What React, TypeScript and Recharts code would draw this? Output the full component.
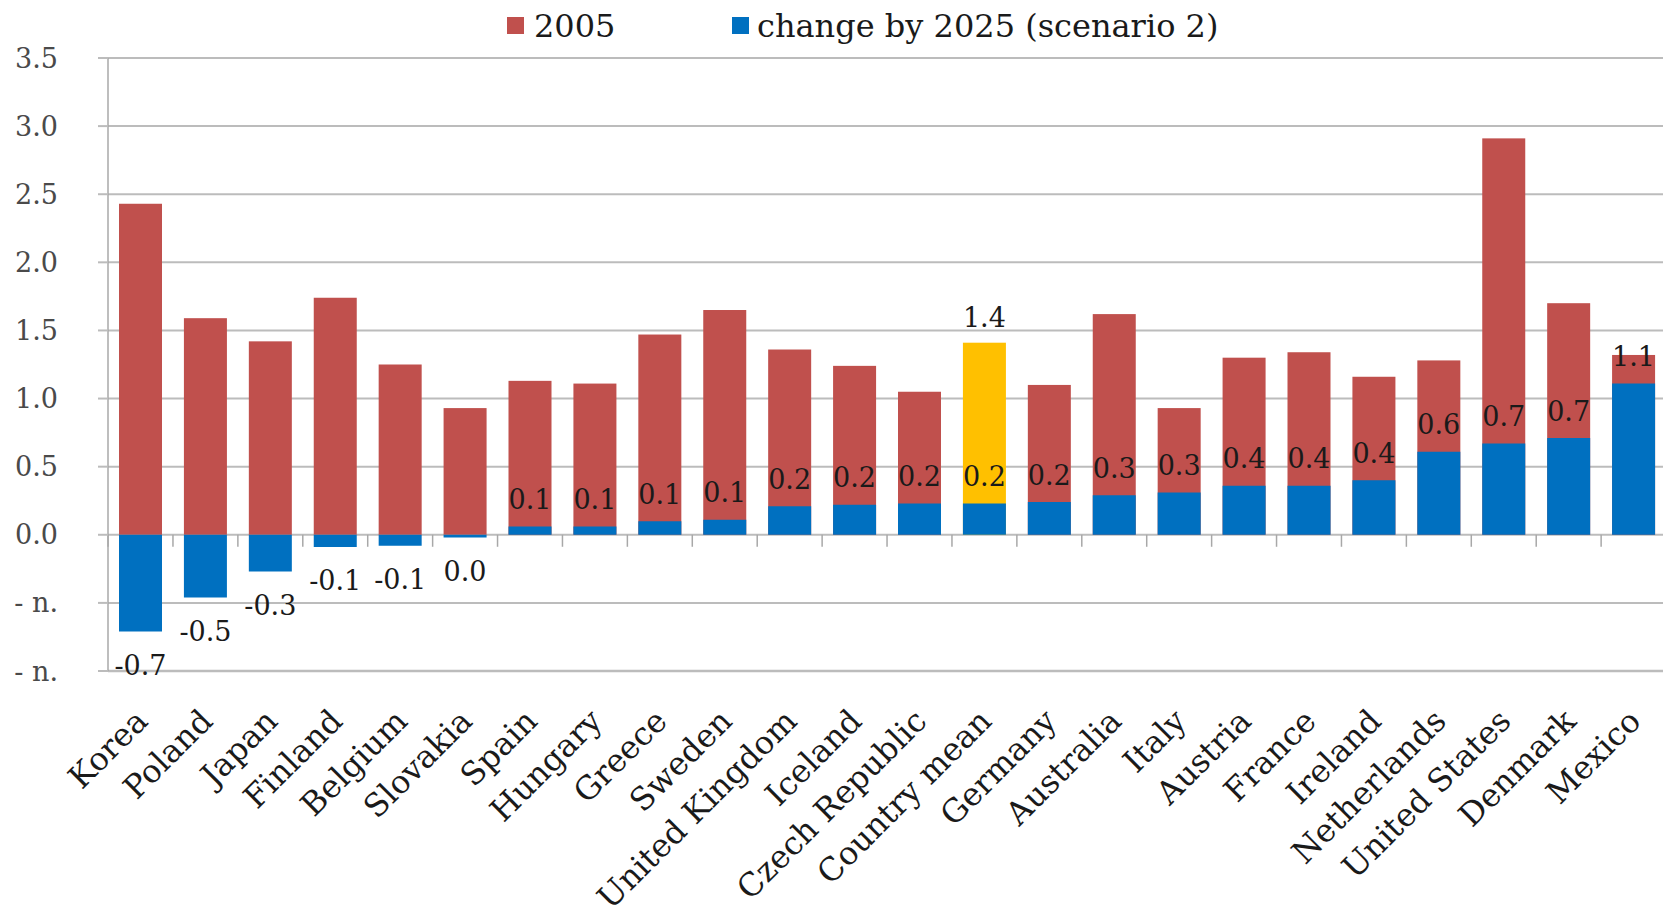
import React from "react";
import { BarChart, Bar, XAxis, YAxis, CartesianGrid, Cell, LabelList, Legend } from "recharts";

const countries = [
  "Korea", "Poland", "Japan", "Finland", "Belgium", "Slovakia", "Spain", "Hungary",
  "Greece", "Sweden", "United Kingdom", "Iceland", "Czech Republic", "Country mean",
  "Germany", "Australia", "Italy", "Austria", "France", "Ireland", "Netherlands",
  "United States", "Denmark", "Mexico",
];
const level2005 = [
  2.43, 1.59, 1.42, 1.74, 1.25, 0.93, 1.13, 1.11, 1.47, 1.65, 1.36, 1.24, 1.05, 1.41,
  1.1, 1.62, 0.93, 1.3, 1.34, 1.16, 1.28, 2.91, 1.7, 1.32,
];
const change2025 = [
  -0.71, -0.46, -0.27, -0.09, -0.08, -0.02, 0.06, 0.06, 0.1, 0.11, 0.21, 0.22, 0.23, 0.23,
  0.24, 0.29, 0.31, 0.36, 0.36, 0.4, 0.61, 0.67, 0.71, 1.11,
];
const seriesNames = ["2005", "change by 2025 (scenario 2)"];
const meanName = "Country mean";
const yTicks = [-1, -0.5, 0, 0.5, 1, 1.5, 2, 2.5, 3, 3.5];
const yTickLabels = ["- n.", "- n.", "0.0", "0.5", "1.0", "1.5", "2.0", "2.5", "3.0", "3.5"];

const RED = "#C0504D";
const BLUE = "#0070C0";
const YELLOW = "#FFC000";
const GRID = "#bcbcbc";
const FONT = '"DejaVu Serif", "Liberation Serif", serif';

const CHART_W = 1680;
const CHART_H = 921;
const MARGIN = { top: 58, right: 14, bottom: 50, left: 0 };
const Y_AXIS_W = 108;
const X_AXIS_H = 200;
const BAR_W = 43;
const BAND = (CHART_W - MARGIN.right - Y_AXIS_W) / countries.length;

const data = countries.map((name, i) => ({
  name,
  base: level2005[i],
  change: change2025[i],
}));

// red/yellow bar, plus the little tick on the zero line at the left of each category
function BaseBar(props: any) {
  const { x, y, width, height, fill } = props;
  const zeroY = y + height;
  const tx = x + width / 2 - BAND / 2;
  return (
    <g>
      <rect x={x} y={y} width={width} height={height} fill={fill} />
      <line x1={tx} x2={tx} y1={zeroY} y2={zeroY + 12} stroke="#a8a8a8" strokeWidth={1.5} />
    </g>
  );
}

function MeanLabel(props: any) {
  const { x, y, width, height, index } = props;
  if (data[index]?.name !== meanName) return null;
  const top = Math.min(y, y + height);
  return (
    <text x={x + width / 2} y={top - 25} dy="0.35em" textAnchor="middle"
      fontFamily={FONT} fontSize={27} fill="#1a1a1a">
      {data[index].base.toFixed(1)}
    </text>
  );
}

function ChangeLabel(props: any) {
  const { x, y, width, height, value } = props;
  const v = Number(value);
  const top = Math.min(y, y + height);
  const bottom = Math.max(y, y + height);
  const txt = Math.abs(v) < 0.05 ? "0.0" : v.toFixed(1);
  const cy = v >= 0 ? top - 27 : bottom + 34;
  return (
    <text x={x + width / 2} y={cy} dy="0.35em" textAnchor="middle"
      fontFamily={FONT} fontSize={27} fill="#1a1a1a">
      {txt}
    </text>
  );
}

function CountryTick(props: any) {
  const { x, y, payload } = props;
  const ax = x + 9;
  const ay = y + 50;
  return (
    <text x={ax} y={ay} textAnchor="end" transform={`rotate(-45, ${ax}, ${ay})`}
      fontFamily={FONT} fontSize={32} fill="#1a1a1a">
      {payload.value}
    </text>
  );
}

const legendContent = () => (
  <div style={{ position: "relative", height: 50, fontFamily: FONT, fontSize: 32, color: "#1a1a1a", whiteSpace: "nowrap" }}>
    <span style={{ position: "absolute", left: 507, top: 17, width: 17, height: 17, background: RED }} />
    <span style={{ position: "absolute", left: 534, top: 6, lineHeight: "40px" }}>{seriesNames[0]}</span>
    <span style={{ position: "absolute", left: 732, top: 17, width: 17, height: 17, background: BLUE }} />
    <span style={{ position: "absolute", left: 757, top: 6, lineHeight: "40px" }}>{seriesNames[1]}</span>
  </div>
);

export default function App() {
  return (
    <div style={{ position: "absolute", left: 0, top: 0, width: 1663, height: 921, overflow: "hidden", background: "#fff" }}>
      <BarChart width={CHART_W} height={CHART_H} data={data} margin={MARGIN} barSize={BAR_W} barGap={-BAR_W}>
        <CartesianGrid vertical={false} stroke={GRID} strokeWidth={2} />
        <XAxis dataKey="name" interval={0} height={X_AXIS_H} tickLine={false} tickSize={0}
          axisLine={{ stroke: GRID, strokeWidth: 2.5 }} tick={<CountryTick />} />
        <YAxis width={Y_AXIS_W} domain={[-1, 3.5]} ticks={yTicks} allowDataOverflow
          tickFormatter={(v: number) => yTickLabels[yTicks.indexOf(v)] ?? ""}
          tickSize={10} tickMargin={40}
          tickLine={{ stroke: GRID, strokeWidth: 2 }}
          axisLine={{ stroke: "#a8a8a8", strokeWidth: 1.5 }}
          tick={{ fontFamily: FONT, fontSize: 27, fill: "#4a4a4a" }} />
        <Legend content={legendContent} verticalAlign="middle" align="center"
          wrapperStyle={{ position: "absolute", top: 0, left: 0, width: CHART_W, height: 50 }} />
        <Bar dataKey="base" name={seriesNames[0]} fill={RED} shape={<BaseBar />} isAnimationActive={false}>
          {data.map((d, i) => (
            <Cell key={`c-${i}`} fill={d.name === meanName ? YELLOW : RED} />
          ))}
          <LabelList dataKey="base" content={<MeanLabel />} />
        </Bar>
        <Bar dataKey="change" name={seriesNames[1]} fill={BLUE} isAnimationActive={false}>
          <LabelList dataKey="change" content={<ChangeLabel />} />
        </Bar>
      </BarChart>
    </div>
  );
}
